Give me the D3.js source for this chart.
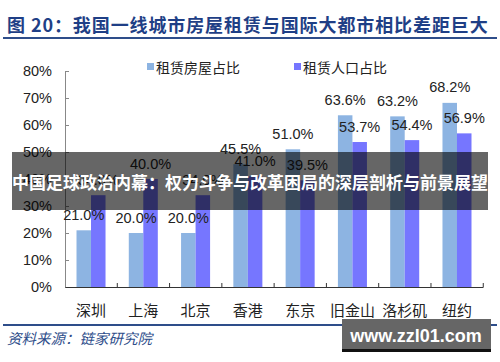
<!DOCTYPE html>
<html><head><meta charset="utf-8">
<script src="https://cdn.jsdelivr.net/npm/d3@7"></script>
<style>body{margin:0;background:#fff}svg{display:block}</style>
</head><body>
<svg id="c" width="500" height="362"></svg>
<script>
const title = "图 20：我国一线城市房屋租赁与国际大都市相比差距巨大";
const source = "资料来源：链家研究院";
const overlayText = "中国足球政治内幕：权力斗争与改革困局的深层剖析与前景展望";
const watermark = "www.zzl01.com";
const categories = ["深圳","上海","北京","香港","东京","旧金山","洛杉矶","纽约"];
const seriesNames = ["租赁房屋占比","租赁人口占比"];
const housingShare = [21.0,20.0,20.0,45.5,51.0,63.6,63.2,68.2];
const populationShare = [34.0,40.0,34.0,41.0,39.5,53.7,54.4,56.9];
const yTicks = [0,10,20,30,40,50,60,70,80];
const colors = ["#8db4e2","#7676ff"];

const svg = d3.select("#c");
svg.append("rect").attr("width",500).attr("height",362).attr("fill","#fff");

// title
svg.append("text").attr("x",7).attr("y",32).text(title)
  .attr("font-family","'Noto Sans CJK SC'").attr("font-weight","bold")
  .attr("font-size",18).attr("letter-spacing",0.9).attr("fill","#1f3f86");
svg.append("line").attr("x1",3).attr("x2",497).attr("y1",38).attr("y2",38)
  .attr("stroke","#2e4d8a").attr("stroke-width",2);

const x0 = d3.scaleBand().domain(categories).range([65,483]).paddingInner(0.445).paddingOuter(0.22);
const x1 = d3.scaleBand().domain(seriesNames).range([0,x0.bandwidth()]);
const y = d3.scaleLinear().domain([0,80]).range([287,71]);

// y axis
const yAxis = d3.axisRight(y).tickValues(yTicks).tickSize(4).tickFormat("");
const ya = svg.append("g").attr("transform","translate(65,0)").call(yAxis);
ya.select(".domain").attr("stroke","#888");
ya.selectAll(".tick line").attr("stroke","#888");
svg.append("g").selectAll("text").data(yTicks).join("text")
  .attr("x",52).attr("y",d=>y(d)+5).attr("text-anchor","end")
  .attr("font-family","Arial, 'Liberation Sans'").attr("font-size",14.5).attr("fill","#222")
  .text(d=>d+"%");

const data = categories.map((c,i)=>({c, vals:[housingShare[i],populationShare[i]]}));

const g = svg.append("g");
const grp = g.selectAll("g").data(data).join("g").attr("transform",d=>`translate(${x0(d.c)},0)`);
grp.selectAll("rect").data(d=>d.vals.map((v,k)=>({k,v}))).join("rect")
  .attr("x",d=>x1(seriesNames[d.k])).attr("width",x1.bandwidth())
  .attr("y",d=>y(d.v)).attr("height",d=>y(0)-y(d.v)).attr("fill",d=>colors[d.k]);
grp.selectAll("text").data(d=>d.vals.map((v,k)=>({k,v}))).join("text")
  .attr("x",d=>x1(seriesNames[d.k])+x1.bandwidth()/2).attr("y",d=>y(d.v)-10.5)
  .attr("text-anchor","middle").attr("font-family","Arial, 'Liberation Sans'")
  .attr("font-size",14.5).attr("fill","#222").text(d=>d.v.toFixed(1)+"%");

// x axis
const xAxis = d3.axisTop(x0).tickSize(0).tickFormat("");
const xa = svg.append("g").attr("transform","translate(0,287)").call(xAxis);
xa.select(".domain").attr("stroke","#333");
const step = x0.step();
const bounds = d3.range(categories.length+1).map(i=>x0(categories[0])-x0.paddingOuter()*step + i*step);
svg.append("g").selectAll("line").data(bounds.slice(1)).join("line")
  .attr("x1",d=>d).attr("x2",d=>d).attr("y1",283).attr("y2",287).attr("stroke","#333");
svg.append("g").selectAll("text").data(categories).join("text")
  .attr("x",d=>x0(d)+x0.bandwidth()/2).attr("y",316).attr("text-anchor","middle")
  .attr("font-family","'Noto Sans CJK SC'").attr("font-size",15).attr("fill","#222").text(d=>d);

// legend
const legX = [147,294];
seriesNames.forEach((s,k)=>{
  svg.append("rect").attr("x",legX[k]).attr("y",63).attr("width",7).attr("height",7).attr("fill",colors[k]);
  svg.append("text").attr("x",legX[k]+9).attr("y",73).text(s)
    .attr("font-family","'Noto Sans CJK SC'").attr("font-size",14).attr("fill","#222");
});

// footer
svg.append("line").attr("x1",3).attr("x2",497).attr("y1",325).attr("y2",325)
  .attr("stroke","#2e4d8a").attr("stroke-width",2);
svg.append("text").attr("x",7).attr("y",344).text(source)
  .attr("font-family","'Noto Sans CJK SC'").attr("font-style","italic").attr("transform","")
  .attr("font-size",14.5).attr("fill","#2e4d8a");

// overlay banner
svg.append("rect").attr("x",12).attr("y",152).attr("width",476).attr("height",58)
  .attr("fill","#000").attr("fill-opacity",0.6);
svg.append("text").attr("x",250).attr("y",189).attr("text-anchor","middle").text(overlayText)
  .attr("font-family","'Noto Sans CJK SC'").attr("font-weight","bold").attr("font-size",17).attr("fill","#fff");

// watermark
svg.append("rect").attr("x",342).attr("y",319).attr("width",149).attr("height",33).attr("fill","#666");
svg.append("rect").attr("x",342).attr("y",349).attr("width",149).attr("height",3).attr("fill","#111");
svg.append("text").attr("x",416).attr("y",342).attr("text-anchor","middle").text(watermark)
  .attr("font-family","Arial, 'Liberation Sans'").attr("font-weight","bold").attr("font-size",18).attr("fill","#fff");
</script>
</body></html>
